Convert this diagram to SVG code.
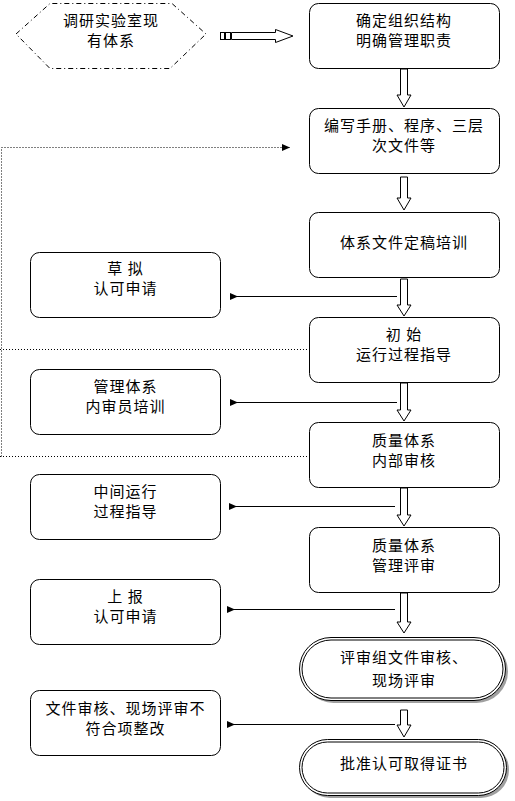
<svg xmlns="http://www.w3.org/2000/svg" width="515" height="801" viewBox="0 0 515 801">
<style>
.box{fill:#fff;stroke:#000;stroke-width:1}
.t{font-family:"Noto Sans CJK SC","Noto Sans CJK TC",sans-serif;font-size:15px;fill:#000;text-anchor:middle;letter-spacing:1px}
.blk{fill:#fff;stroke:#000;stroke-width:1}
.ln{stroke:#000;stroke-width:1;fill:none}
.dot{stroke:#000;stroke-width:1;fill:none;stroke-dasharray:1 2}
.sh{fill:#a0a0a0}
</style>
<defs>
<marker id="ah" markerWidth="10" markerHeight="8" refX="1" refY="4" orient="auto" markerUnits="userSpaceOnUse">
<path d="M0,4 L8,0.5 L8,7.5 Z" fill="#000"/>
</marker>
<marker id="ahr" markerWidth="10" markerHeight="8" refX="9" refY="4" orient="auto" markerUnits="userSpaceOnUse">
<path d="M1,0.5 L9,4 L1,7.5 Z" fill="#000"/>
</marker>
</defs>
<rect width="515" height="801" fill="#fff"/>

<g id="connectors">
<path class="dot" d="M1.5,456.5 L1.5,147.5 L290,147.5" marker-end="url(#ahr)"/>
<line class="dot" x1="0" y1="349.5" x2="308" y2="349.5"/>
<line class="dot" x1="0" y1="456.5" x2="308" y2="456.5"/>
<rect x="220.5" y="32.5" width="4" height="7" class="blk"/>
<rect x="225.5" y="32.5" width="5" height="7" class="blk"/>
<path class="blk" d="M231.5,32.5 L275.5,32.5 L275.5,29.5 L293,36 L275.5,42.5 L275.5,39.5 L231.5,39.5 Z"/>
<path class="blk" d="M400.5,69 L407.5,69 L407.5,95 L411,95 L404,107 L397,95 L400.5,95 Z"/>
<path class="blk" d="M400.5,177 L407.5,177 L407.5,198 L411,198 L404,210 L397,198 L400.5,198 Z"/>
<path class="blk" d="M400.5,279 L407.5,279 L407.5,305 L411,305 L404,316 L397,305 L400.5,305 Z"/>
<path class="blk" d="M400.5,383 L407.5,383 L407.5,410 L411,410 L404,421 L397,410 L400.5,410 Z"/>
<path class="blk" d="M400.5,488 L407.5,488 L407.5,515 L411,515 L404,526 L397,515 L400.5,515 Z"/>
<path class="blk" d="M400.5,593 L407.5,593 L407.5,622 L411,622 L404,633 L397,622 L400.5,622 Z"/>
<path class="blk" d="M400.5,710 L407.5,710 L407.5,725 L411,725 L404,737 L397,725 L400.5,725 Z"/>
<line class="ln" x1="397" y1="296.5" x2="237" y2="296.5" marker-end="url(#ah)"/>
<line class="ln" x1="397" y1="402.5" x2="237" y2="402.5" marker-end="url(#ah)"/>
<line class="ln" x1="395" y1="506.5" x2="236" y2="506.5" marker-end="url(#ah)"/>
<line class="ln" x1="395" y1="609.5" x2="234" y2="609.5" marker-end="url(#ah)"/>
<line class="ln" x1="395" y1="724.5" x2="234" y2="724.5" marker-end="url(#ah)"/>
</g>

<g id="n-survey">
<polygon points="16,34 50,3.5 172,3.5 206,34 170,68.5 50,68.5" fill="#fff" stroke="#000" stroke-width="1" stroke-dasharray="5 3 1 3"/>
<text class="t" x="111" y="26">调研实验室现</text>
<text class="t" x="111" y="46">有体系</text>
</g>

<g id="n1">
<rect class="box" x="309.5" y="3.5" width="190" height="65" rx="9"/>
<text class="t" x="404" y="26">确定组织结构</text>
<text class="t" x="404" y="46">明确管理职责</text>
</g>
<g id="n2">
<rect class="box" x="309.5" y="108.5" width="190" height="65" rx="9"/>
<text class="t" x="404" y="131">编写手册、程序、三层</text>
<text class="t" x="404" y="151">次文件等</text>
</g>
<g id="n3">
<rect class="box" x="309.5" y="212.5" width="190" height="65" rx="9"/>
<text class="t" x="404" y="247.5">体系文件定稿培训</text>
</g>
<g id="n4">
<rect class="box" x="309.5" y="317.5" width="190" height="65" rx="9"/>
<text class="t" x="404" y="340">初 始</text>
<text class="t" x="404" y="360">运行过程指导</text>
</g>
<g id="n5">
<rect class="box" x="309.5" y="422.5" width="190" height="65" rx="9"/>
<text class="t" x="404" y="445.5">质量体系</text>
<text class="t" x="404" y="465.5">内部审核</text>
</g>
<g id="n6">
<rect class="box" x="309.5" y="527.5" width="190" height="65" rx="9"/>
<text class="t" x="404" y="550.5">质量体系</text>
<text class="t" x="404" y="570.5">管理评审</text>
</g>
<g id="n7">
<rect class="sh" x="302" y="640" width="206" height="63" rx="31.5"/>
<rect x="299.5" y="637.5" width="206" height="63" rx="31.5" fill="#fff" stroke="#000" stroke-width="1"/>
<rect x="302" y="640" width="201" height="58" rx="29" fill="none" stroke="#000" stroke-width="1"/>
<text class="t" x="404" y="663">评审组文件审核、</text>
<text class="t" x="404" y="686">现场评审</text>
</g>
<g id="n8">
<rect class="sh" x="302" y="742" width="207" height="56" rx="28"/>
<rect x="299.5" y="739.5" width="207" height="56" rx="28" fill="#fff" stroke="#000" stroke-width="1"/>
<rect x="302" y="742" width="202" height="51" rx="25.5" fill="none" stroke="#000" stroke-width="1"/>
<text class="t" x="404" y="769">批准认可取得证书</text>
</g>

<g id="l1">
<rect class="box" x="30.5" y="252.5" width="190" height="65" rx="9"/>
<text class="t" x="125.5" y="274">草 拟</text>
<text class="t" x="125.5" y="294">认可申请</text>
</g>
<g id="l2">
<rect class="box" x="30.5" y="369.5" width="190" height="65" rx="9"/>
<text class="t" x="125.5" y="392">管理体系</text>
<text class="t" x="125.5" y="412">内审员培训</text>
</g>
<g id="l3">
<rect class="box" x="30.5" y="474.5" width="190" height="65" rx="9"/>
<text class="t" x="125.5" y="497">中间运行</text>
<text class="t" x="125.5" y="517">过程指导</text>
</g>
<g id="l4">
<rect class="box" x="30.5" y="579.5" width="190" height="65" rx="9"/>
<text class="t" x="125.5" y="602">上 报</text>
<text class="t" x="125.5" y="622">认可申请</text>
</g>
<g id="l5">
<rect class="box" x="30.5" y="690.5" width="190" height="65" rx="9"/>
<text class="t" x="125.5" y="713.5">文件审核、现场评审不</text>
<text class="t" x="125.5" y="733.5">符合项整改</text>
</g>
</svg>
